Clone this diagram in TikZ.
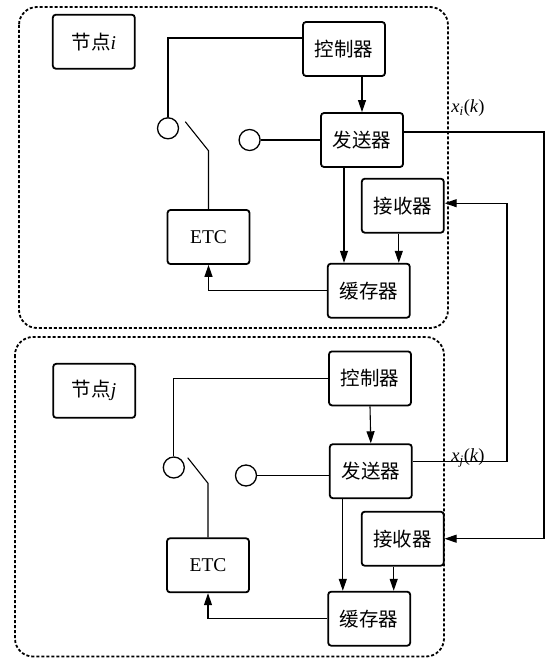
\documentclass[tikz,border=0pt]{standalone}
\usepackage{fontspec}
\setmainfont{Liberation Serif}
\newfontfamily\cjk{Noto Sans CJK SC}
\usetikzlibrary{arrows.meta,calc}
\begin{document}
\begin{tikzpicture}[x=1pt,y=-1pt,
  blk/.style={draw,line width=1.8pt,rounded corners=3pt,minimum width=82pt,minimum height=54pt,inner sep=0pt,font=\fontsize{19.5}{21}\selectfont},
  port/.style={draw,line width=1.3pt,circle,minimum size=21pt,inner sep=0pt},
  conn/.style={line width=1.1pt},
  arr/.style={conn,-{Triangle[length=12pt,width=8pt]}},
  grp/.style={line width=1.8pt,dash pattern=on 3pt off 2pt,rounded corners=18pt},
  lbl/.style={font=\fontsize{18.5}{20}\selectfont,inner sep=0pt}]
\useasboundingbox (0,0) rectangle (545,658);
% group frames
\draw[grp] (19,7) rectangle (448,328);
\draw[grp] (15,337) rectangle (444,656.5);
% ---- node i ----
\node[blk] (nodei) at (93.8,41.7) {{\cjk 节点}\textit{i}};
\node[blk] (ctrli) at (344,49) {\cjk 控制器};
\node[blk] (txi) at (362,140) {\cjk 发送器};
\node[blk] (rxi) at (402.8,205.7) {\cjk 接收器};
\node[blk] (etci) at (208.5,237) {ETC};
\node[blk] (bufi) at (368.8,290.7) {\cjk 缓存器};
\node[port] (circLi) at (168,128.3) {};
\node[port] (circRi) at (249.6,140) {};
\coordinate (swAi) at (185.3,121.7);
\coordinate (swBi) at (208.5,150.7);
\draw[conn] ([yshift=11pt]ctrli.west) -| (circLi.north);
\draw[conn] (swAi) -- (swBi) -- (etci.north);
\draw[conn] (circRi.east) -- (txi.west);
\draw[arr] (ctrli.south -| txi.north) -- (txi.north);
\draw[arr] ([xshift=-18pt]txi.south) -- ([xshift=-18pt]txi.south |- bufi.north);
\draw[arr] ([xshift=-4pt]rxi.south) -- ([xshift=-4pt]rxi.south |- bufi.north);
\draw[arr] (bufi.west) -| (etci.south);
% ---- node j ----
\node[blk] (nodej) at (94.2,390.8) {{\cjk 节点}\textit{j}};
\node[blk] (ctrlj) at (370,378.4) {\cjk 控制器};
\node[blk] (txj) at (370.8,471.2) {\cjk 发送器};
\node[blk] (rxj) at (402.7,538.7) {\cjk 接收器};
\node[blk] (etcj) at (208,565.3) {ETC};
\node[blk] (bufj) at (369.2,618.7) {\cjk 缓存器};
\node[port] (circLj) at (173.8,467.5) {};
\node[port] (circRj) at (246,475.5) {};
\coordinate (swAj) at (187.7,457.7);
\coordinate (swBj) at (208,483.3);
\draw[conn] (ctrlj.west) -| (circLj.north);
\draw[conn] (swAj) -- (swBj) -- (etcj.north);
\draw[conn] (circRj.east) -- (txj.west |- circRj.east);
\draw[arr] (ctrlj.south) -- (txj.north);
\draw[arr] ([xshift=-28pt]txj.south) -- ([xshift=-28pt]txj.south |- bufj.north);
\draw[arr] ([xshift=-9pt]rxj.south) -- ([xshift=-9pt]rxj.south |- bufj.north);
\draw[arr] (bufj.west) -| (etcj.south);
% ---- links between nodes ----
\coordinate (outi) at (544,132);
\coordinate (outj) at (507,461.7);
\draw[arr] ([yshift=8pt]txi.east) -- (outi) |- (rxj.east);
\draw[arr] ([yshift=9.5pt]txj.east) -- (outj) |- ([yshift=2.5pt]rxi.east);
\node[lbl] (labi) at (468,108) {\textit{x\textsubscript{i}}(\textit{k})};
\node[lbl] (labj) at (468,458) {\textit{x\textsubscript{j}}(\textit{k})};
\end{tikzpicture}
\end{document}
